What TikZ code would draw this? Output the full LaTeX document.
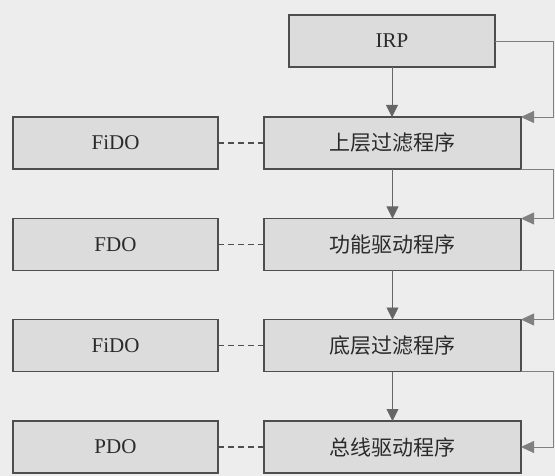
\documentclass[tikz,border=0pt]{standalone}
\usepackage{fontspec}
\setmainfont{Liberation Serif}
\newfontfamily\cjk{Noto Sans CJK SC}
\usetikzlibrary{arrows.meta}
\definecolor{bgc}{HTML}{EDEDED}
\definecolor{boxfill}{HTML}{DCDCDC}
\definecolor{boxdraw}{HTML}{4E4E4E}
\definecolor{linec}{HTML}{666666}
\definecolor{loopc}{HTML}{808080}
\definecolor{txt}{HTML}{2A2A2A}
\begin{document}
\begin{tikzpicture}[x=1pt,y=-1pt,
  box/.style={draw=boxdraw, line width=1.3pt, fill=boxfill, minimum height=52pt,
    inner sep=0pt, outer sep=0pt, text=txt, font=\fontsize{21}{25}\selectfont},
  leftbox/.style={box, minimum width=205pt},
  rightbox/.style={box, minimum width=257pt, font=\cjk\fontsize{21}{25}\selectfont},
  irpbox/.style={box, minimum width=206pt},
  down/.style={-{Triangle[width=12pt,length=12pt,fill=linec]}, draw=linec, line width=0.9pt},
  back/.style={-{Triangle[width=12pt,length=13pt,fill=loopc]}, draw=loopc, line width=0.8pt},
  dashline/.style={draw=boxdraw, line width=1.3pt, dash pattern=on 6pt off 4pt}]
\fill[bgc] (0,0) rectangle (555,476);
\useasboundingbox (0,0) rectangle (555,476);
\coordinate (rx) at (553,0);
% nodes
\node[irpbox] (irp) at (392,41) {IRP};
\node[rightbox] (r1) at (392.5,143) {上层过滤程序};
\node[rightbox] (r2) at (392.5,244.5) {功能驱动程序};
\node[rightbox] (r3) at (392.5,345.5) {底层过滤程序};
\node[rightbox] (r4) at (392.5,447) {总线驱动程序};
\node[leftbox] (l1) at (115.5,143) {FiDO};
\node[leftbox] (l2) at (115.5,244.5) {FDO};
\node[leftbox] (l3) at (115.5,345.5) {FiDO};
\node[leftbox] (l4) at (115.5,447) {PDO};
% dashed links
\draw[dashline] (l1.east) -- (r1.west);
\draw[dashline] (l2.east) -- (r2.west);
\draw[dashline] (l3.east) -- (r3.west);
\draw[dashline] (l4.east) -- (r4.west);
% downward arrows
\draw[down] (irp.south) -- (irp.south |- r1.north);
\draw[down] (r1.south) -- (r2.north);
\draw[down] (r2.south) -- (r3.north);
\draw[down] (r3.south) -- (r4.north);
% right-side return lines
\draw[back] (irp.east) -- (irp.east -| rx) |- (r1.north east);
\draw[back] (r1.south east) -- (r1.south east -| rx) |- (r2.north east);
\draw[back] (r2.south east) -- (r2.south east -| rx) |- (r3.north east);
\draw[back] (r3.south east) -- (r3.south east -| rx) |- (r4.east);
\end{tikzpicture}
\end{document}
